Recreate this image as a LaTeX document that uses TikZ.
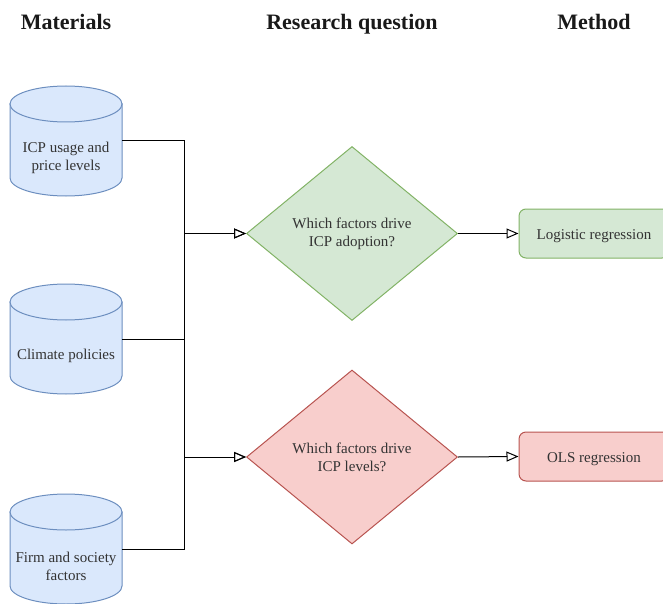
\documentclass[tikz,border=0pt]{standalone}
\usepackage{fontspec}
\setmainfont{Liberation Serif}
\usetikzlibrary{arrows.meta,shapes.geometric}
\definecolor{cylfill}{HTML}{DAE8FC}
\definecolor{cylline}{HTML}{6C8EBF}
\definecolor{grfill}{HTML}{D5E8D4}
\definecolor{grline}{HTML}{82B366}
\definecolor{rdfill}{HTML}{F8CECC}
\definecolor{rdline}{HTML}{B85450}
\definecolor{txt}{HTML}{333333}
\newcommand{\mycyl}[4]{% name, cx, cy, text
  \path[fill=cylfill,draw=cylline,line width=1pt]
    (#2-56,#3-37) -- (#2-56,#3+37)
    .. controls (#2-56,#3+46.9) and (#2-30.9,#3+55) .. (#2,#3+55)
    .. controls (#2+30.9,#3+55) and (#2+56,#3+46.9) .. (#2+56,#3+37)
    -- (#2+56,#3-37) -- cycle;
  \path[fill=cylfill,draw=cylline,line width=1pt] (#2,#3-37) ellipse[x radius=56,y radius=18];
  \node[minimum width=112pt,minimum height=110pt,inner sep=0pt] (#1) at (#2,#3) {};
  \node[smalltext] at (#2,#3+17) {#4};
}
\tikzset{
  smalltext/.style={text=txt,font=\fontsize{15}{18}\selectfont,align=center},
  header/.style={text=black!90,font=\fontsize{22}{26}\selectfont\bfseries,text height=15pt,text depth=5pt},
  conn/.style={line width=1pt,black},
  arr/.style={conn,-{Triangle[open,length=12pt,width=10pt,line width=1pt]}},
  question/.style={diamond,minimum width=211pt,minimum height=174pt,inner sep=0pt,line width=1pt,smalltext},
  methodbox/.style={rectangle,rounded corners=7pt,minimum width=150pt,minimum height=49pt,line width=1pt,smalltext,text height=14pt,text depth=2pt},
}
\begin{document}
\begin{tikzpicture}[x=1pt,y=-1pt]
\useasboundingbox (0,0) rectangle (663,604);
\clip (0,0) rectangle (663,604);
\node[header] (h1) at (66,25) {Materials};
\node[header] (h2) at (352,25) {Research question};
\node[header] (h3) at (594,25) {Method};

\mycyl{c1}{66}{141}{ICP usage and\\price levels}
\mycyl{c2}{66}{339}{Climate policies}
\mycyl{c3}{66}{549}{Firm and society\\factors}

\node[question,fill=grfill,draw=grline] (d1) at (352,233.5) {Which factors drive\\ICP adoption?};
\node[question,fill=rdfill,draw=rdline] (d2) at (352,457) {Which factors drive\\ICP levels?};

\node[methodbox,fill=grfill,draw=grline] (m1) at (594,233.5) {Logistic regression};
\node[methodbox,fill=rdfill,draw=rdline] (m2) at (594,456.5) {OLS regression};

\coordinate (j1) at (184,233.5);
\coordinate (j2) at (184,457);
\draw[arr] (c1.east) -| (j1) -- (d1.west);
\draw[arr] (c2.east) -| (j1) -- (d1.west);
\draw[arr] (c2.east) -| (j2) -- (d2.west);
\draw[arr] (c3.east) -| (j2) -- (d2.west);
\draw[arr] (d1.east) -- (m1.west);
\draw[arr] (d2.east) -- (m2.west);
\end{tikzpicture}
\end{document}
